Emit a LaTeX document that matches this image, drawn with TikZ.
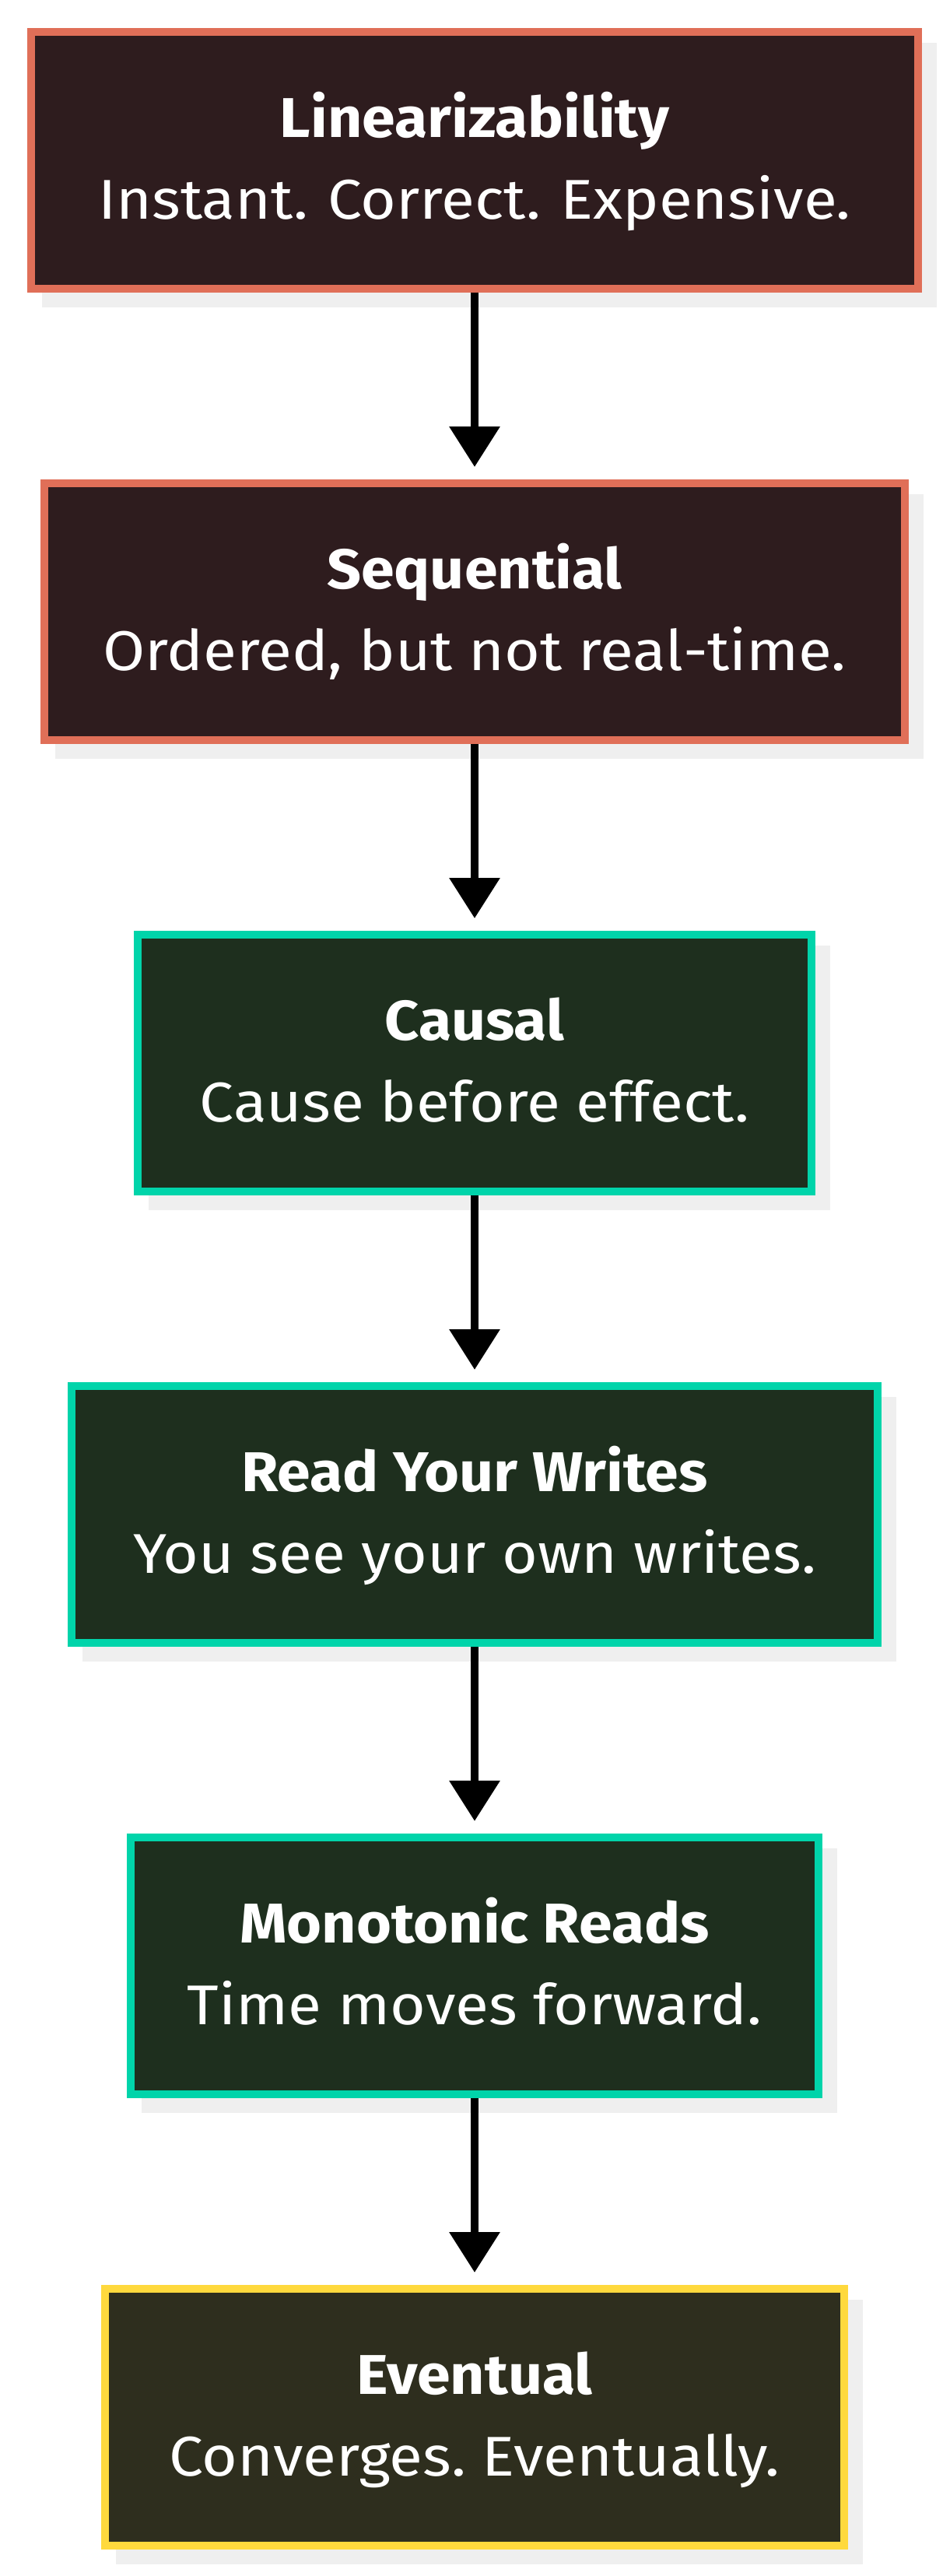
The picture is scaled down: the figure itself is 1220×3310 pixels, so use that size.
\documentclass[tikz,border=0pt]{standalone}
\usepackage{fontspec}
\setmainfont{Fira Sans}
\newfontfamily\titlefam{Fira Sans}[FakeStretch=1.07]
\newfontfamily\subfam{Fira Sans}[FakeStretch=1.09]
\frenchspacing
\usetikzlibrary{arrows.meta,backgrounds}
\definecolor{redline}{HTML}{E06F58}
\definecolor{redfill}{HTML}{2E1C1E}
\definecolor{greenline}{HTML}{00D4AA}
\definecolor{greenfill}{HTML}{1E2F1E}
\definecolor{yelline}{HTML}{FFD93D}
\definecolor{yelfill}{HTML}{2E2E1E}
\definecolor{shadowgray}{HTML}{EFEFEF}
\tikzset{
  box/.style={rectangle, draw, line width=10bp, minimum height=330bp, inner sep=0pt},
  redbox/.style={box, draw=redline, fill=redfill},
  greenbox/.style={box, draw=greenline, fill=greenfill},
  yelbox/.style={box, draw=yelline, fill=yelfill},
  titletext/.style={text=white, anchor=base, inner sep=0pt, font=\titlefam\fontsize{72bp}{86bp}\selectfont\bfseries},
  subtext/.style={text=white, anchor=base, inner sep=0pt, font=\subfam\fontsize{72bp}{86bp}\selectfont},
  flow/.style={line width=10bp, -{Triangle[width=63bp,length=52bp]}, shorten >=16bp},
  shade/.style={fill=shadowgray}
}
\begin{document}
\begin{tikzpicture}[x=1bp,y=-1bp]
\useasboundingbox (0,0) rectangle (1220,3310);

\node[redbox, minimum width=1140bp] (b1) at (610,206) {};
\node[titletext] (t1) at (610,176.7) {Linearizability};
\node[subtext] (s1) at (610,281.7) {Instant.\hspace{0.06em} Correct.\hspace{0.06em} Expensive.};

\node[redbox, minimum width=1106bp] (b2) at (610,786) {};
\node[titletext] (t2) at (610,756.7) {Sequential};
\node[subtext] (s2) at (610,861.7) {Ordered, but not real-time.};

\node[greenbox, minimum width=865bp] (b3) at (610,1366) {};
\node[titletext] (t3) at (610,1336.7) {Causal};
\node[subtext] (s3) at (610,1441.7) {Cause before effect.};

\node[greenbox, minimum width=1036bp] (b4) at (610,1946) {};
\node[titletext] (t4) at (610,1916.7) {Read Your Writes};
\node[subtext] (s4) at (610,2021.7) {You see your own writes.};

\node[greenbox, minimum width=884bp] (b5) at (610,2526) {};
\node[titletext] (t5) at (610,2496.7) {Monotonic Reads};
\node[subtext] (s5) at (610,2601.7) {Time moves forward.};

\node[yelbox, minimum width=950bp] (b6) at (610,3106) {};
\node[titletext] (t6) at (610,3076.7) {Eventual};
\node[subtext] (s6) at (610,3181.7) {Converges. Eventually.};

\begin{pgfonlayer}{background}
  \fill[white] (0,0) rectangle (1220,3310);
  \foreach \b in {b1,b2,b3,b4,b5,b6}{
    \fill[shade] ([shift={(19,19)}]\b.north west) rectangle ([shift={(19,19)}]\b.south east);
  }
\end{pgfonlayer}

\draw[flow] (b1.south) -- (b2.north);
\draw[flow] (b2.south) -- (b3.north);
\draw[flow] (b3.south) -- (b4.north);
\draw[flow] (b4.south) -- (b5.north);
\draw[flow] (b5.south) -- (b6.north);
\end{tikzpicture}
\end{document}
